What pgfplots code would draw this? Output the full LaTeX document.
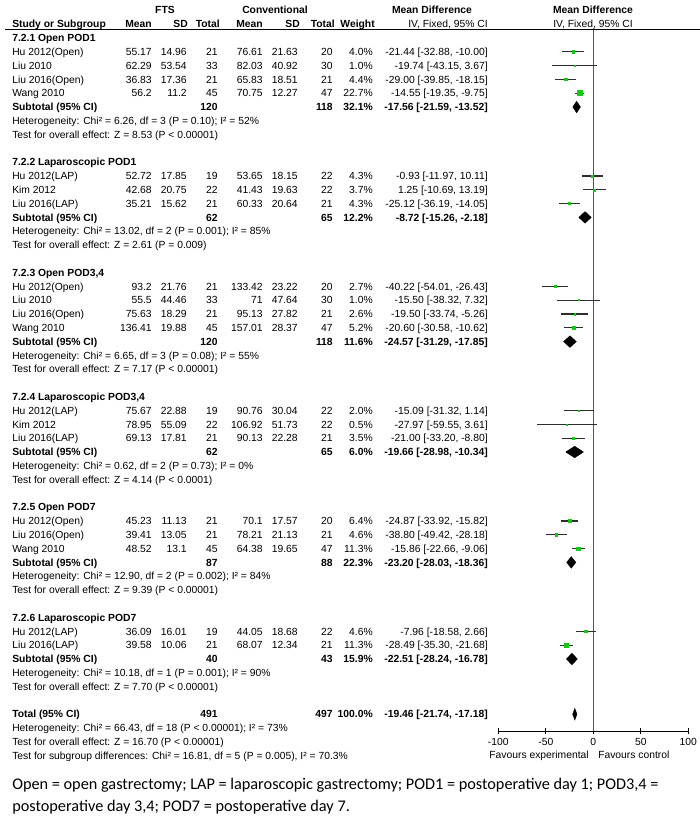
\documentclass[border=0pt]{standalone}
\usepackage{fontspec}
\setmainfont{Liberation Sans}
\newfontfamily\footfont{Carlito}
\usepackage{pgfplots}
\pgfplotsset{compat=1.18}
\usepackage{pgfplotstable}

\definecolor{fgreen}{RGB}{20,200,20}
\definecolor{cigray}{RGB}{45,45,45}
\definecolor{zerogray}{RGB}{85,85,85}

% one line per study: row position (y = -row), mean difference, CI, weight
\pgfplotstableread{
y    md      lo      hi      w
-1   -21.44  -32.88  -10.00  4.0
-2   -19.74  -43.15  3.67    1.0
-3   -29.00  -39.85  -18.15  4.4
-4   -14.55  -19.35  -9.75   22.7
-10  -0.93   -11.97  10.11   4.3
-11  1.25    -10.69  13.19   3.7
-12  -25.12  -36.19  -14.05  4.3
-18  -40.22  -54.01  -26.43  2.7
-19  -15.50  -38.32  7.32    1.0
-20  -19.50  -33.74  -5.26   2.6
-21  -20.60  -30.58  -10.62  5.2
-27  -15.09  -31.32  1.14    2.0
-28  -27.97  -59.55  3.61    0.5
-29  -21.00  -33.20  -8.80   3.5
-35  -24.87  -33.92  -15.82  6.4
-36  -38.80  -49.42  -28.18  4.6
-37  -15.86  -22.66  -9.06   11.3
-43  -7.96   -18.58  2.66    4.6
-44  -28.49  -35.30  -21.68  11.3
}\studies

\newcommand\fs{\fontsize{7.75}{9}\selectfont}
% text rows, in pixels of the reference (y down)
\newcommand\ry[1]{41.6+13.8*(#1)}
\newcommand\lt[3][]{\node[anchor=base west,#1] at (12,{\ry{#2}}) {#3};}
\newcommand\rt[4][]{\node[anchor=base east,#1] at (#2,{\ry{#3}}) {#4};}
\newcommand\study[9]{%
  \lt{#1}{#2}\rt{152}{#1}{#3}\rt{187}{#1}{#4}\rt{218}{#1}{#5}%
  \rt{263}{#1}{#6}\rt{298}{#1}{#7}\rt{333}{#1}{#8}\rt{373}{#1}{#9}}
\newcommand\ci[2]{\rt{488}{#1}{#2}}
\newcommand\sub[6]{%
  \lt[font=\fs\bfseries]{#1}{#2}%
  \rt[font=\fs\bfseries]{218}{#1}{#3}%
  \rt[font=\fs\bfseries]{333}{#1}{#4}%
  \rt[font=\fs\bfseries]{373}{#1}{#5}%
  \rt[font=\fs\bfseries]{488}{#1}{#6}}
\newcommand\head[2]{\lt[font=\fs\bfseries]{#1}{#2}}

\begin{document}
\begin{tikzpicture}
\path[use as bounding box] (0pt,0pt) rectangle (525pt,-616.5pt);

\begin{axis}[
  at={(373.725pt,-548.25pt)}, anchor=south west,
  scale only axis, width=142.5pt, height=527.25pt,
  xmin=-100, xmax=100, ymin=-50.2174, ymax=0.7246,
  axis x line=bottom, axis y line=none,
  axis line style={-, black, line width=0.6pt},
  xtick={-100,-50,0,50,100},
  xticklabels={-100,-50,0,50,100},
  tick align=center, major tick length=5pt,
  tick style={black, line width=0.6pt},
  xticklabel style={font=\fs, inner sep=0pt, yshift=-3pt},
  clip=false,
]
\addplot[zerogray, line width=0.6pt] coordinates {(0,0.7246) (0,-50.2174)};

% confidence intervals
\addplot[draw=none, mark=none,
  error bars/.cd, x dir=both, x explicit, error mark=none,
  error bar style={draw=cigray, line width=0.85pt}]
  table[x=md, y=y,
        x error minus expr=\thisrow{md}-\thisrow{lo},
        x error plus expr=\thisrow{hi}-\thisrow{md}] {\studies};

% weight squares
\addplot[scatter, only marks, mark=square*,
  scatter/use mapped color={draw=fgreen, fill=fgreen},
  visualization depends on={0.4*sqrt(\thisrow{w}) \as \msz},
  scatter/@pre marker code/.append style={/tikz/mark size=\msz}]
  table[x=md, y=y] {\studies};

% pooled estimates
\addplot[fill=black, draw=black, line width=0.3pt] coordinates {(-21.59,-5) (-17.56,-4.58) (-13.52,-5) (-17.56,-5.42) (-21.59,-5)};
\addplot[fill=black, draw=black, line width=0.3pt] coordinates {(-15.26,-13) (-8.72,-12.58) (-2.18,-13) (-8.72,-13.42) (-15.26,-13)};
\addplot[fill=black, draw=black, line width=0.3pt] coordinates {(-31.29,-22) (-24.57,-21.58) (-17.85,-22) (-24.57,-22.42) (-31.29,-22)};
\addplot[fill=black, draw=black, line width=0.3pt] coordinates {(-28.98,-30) (-19.66,-29.58) (-10.34,-30) (-19.66,-30.42) (-28.98,-30)};
\addplot[fill=black, draw=black, line width=0.3pt] coordinates {(-28.03,-38) (-23.20,-37.58) (-18.36,-38) (-23.20,-38.42) (-28.03,-38)};
\addplot[fill=black, draw=black, line width=0.3pt] coordinates {(-28.24,-45) (-22.51,-44.58) (-16.78,-45) (-22.51,-45.42) (-28.24,-45)};
\addplot[fill=black, draw=black, line width=0.3pt] coordinates {(-21.74,-49) (-19.46,-48.58) (-17.18,-49) (-19.46,-49.42) (-21.74,-49)};
\end{axis}

\begin{scope}[x=0.75pt, y=-0.75pt,
  every node/.style={inner sep=0pt, font=\fs}]
% header
\begin{scope}[every node/.style={inner sep=0pt, font=\fs\bfseries}]
\node[anchor=base] at (165,13.6) {FTS};
\node[anchor=base] at (275,13.6) {Conventional};
\node[anchor=base] at (432,13.6) {Mean Difference};
\node[anchor=base] at (593,13.6) {Mean Difference};
\node[anchor=base west] at (12,27.4) {Study or Subgroup};
\node[anchor=base east] at (152,27.4) {Mean};
\node[anchor=base east] at (188,27.4) {SD};
\node[anchor=base east] at (220,27.4) {Total};
\node[anchor=base east] at (263,27.4) {Mean};
\node[anchor=base east] at (300,27.4) {SD};
\node[anchor=base east] at (335,27.4) {Total};
\node[anchor=base east] at (375,27.4) {Weight};
\end{scope}
\node[anchor=base east] at (488,27.4) {IV, Fixed, 95\% CI};
\node[anchor=base] at (593,27.4) {IV, Fixed, 95\% CI};
\draw[line width=0.75pt] (5,29) -- (700,29);

% 7.2.1
\head{0}{7.2.1 Open POD1}
\study{1}{Hu 2012(Open)}{55.17}{14.96}{21}{76.61}{21.63}{20}{4.0\%}\ci{1}{-21.44 [-32.88, -10.00]}
\study{2}{Liu 2010}{62.29}{53.54}{33}{82.03}{40.92}{30}{1.0\%}\ci{2}{-19.74 [-43.15, 3.67]}
\study{3}{Liu 2016(Open)}{36.83}{17.36}{21}{65.83}{18.51}{21}{4.4\%}\ci{3}{-29.00 [-39.85, -18.15]}
\study{4}{Wang 2010}{56.2}{11.2}{45}{70.75}{12.27}{47}{22.7\%}\ci{4}{-14.55 [-19.35, -9.75]}
\sub{5}{Subtotal (95\% CI)}{120}{118}{32.1\%}{-17.56 [-21.59, -13.52]}
\lt{6}{Heterogeneity: Chi² = 6.26, df = 3 (P = 0.10); I² = 52\%}
\lt{7}{Test for overall effect: Z = 8.53 (P < 0.00001)}

% 7.2.2
\head{9}{7.2.2 Laparoscopic POD1}
\study{10}{Hu 2012(LAP)}{52.72}{17.85}{19}{53.65}{18.15}{22}{4.3\%}\ci{10}{-0.93 [-11.97, 10.11]}
\study{11}{Kim 2012}{42.68}{20.75}{22}{41.43}{19.63}{22}{3.7\%}\ci{11}{1.25 [-10.69, 13.19]}
\study{12}{Liu 2016(LAP)}{35.21}{15.62}{21}{60.33}{20.64}{21}{4.3\%}\ci{12}{-25.12 [-36.19, -14.05]}
\sub{13}{Subtotal (95\% CI)}{62}{65}{12.2\%}{-8.72 [-15.26, -2.18]}
\lt{14}{Heterogeneity: Chi² = 13.02, df = 2 (P = 0.001); I² = 85\%}
\lt{15}{Test for overall effect: Z = 2.61 (P = 0.009)}

% 7.2.3
\head{17}{7.2.3 Open POD3,4}
\study{18}{Hu 2012(Open)}{93.2}{21.76}{21}{133.42}{23.22}{20}{2.7\%}\ci{18}{-40.22 [-54.01, -26.43]}
\study{19}{Liu 2010}{55.5}{44.46}{33}{71}{47.64}{30}{1.0\%}\ci{19}{-15.50 [-38.32, 7.32]}
\study{20}{Liu 2016(Open)}{75.63}{18.29}{21}{95.13}{27.82}{21}{2.6\%}\ci{20}{-19.50 [-33.74, -5.26]}
\study{21}{Wang 2010}{136.41}{19.88}{45}{157.01}{28.37}{47}{5.2\%}\ci{21}{-20.60 [-30.58, -10.62]}
\sub{22}{Subtotal (95\% CI)}{120}{118}{11.6\%}{-24.57 [-31.29, -17.85]}
\lt{23}{Heterogeneity: Chi² = 6.65, df = 3 (P = 0.08); I² = 55\%}
\lt{24}{Test for overall effect: Z = 7.17 (P < 0.00001)}

% 7.2.4
\head{26}{7.2.4 Laparoscopic POD3,4}
\study{27}{Hu 2012(LAP)}{75.67}{22.88}{19}{90.76}{30.04}{22}{2.0\%}\ci{27}{-15.09 [-31.32, 1.14]}
\study{28}{Kim 2012}{78.95}{55.09}{22}{106.92}{51.73}{22}{0.5\%}\ci{28}{-27.97 [-59.55, 3.61]}
\study{29}{Liu 2016(LAP)}{69.13}{17.81}{21}{90.13}{22.28}{21}{3.5\%}\ci{29}{-21.00 [-33.20, -8.80]}
\sub{30}{Subtotal (95\% CI)}{62}{65}{6.0\%}{-19.66 [-28.98, -10.34]}
\lt{31}{Heterogeneity: Chi² = 0.62, df = 2 (P = 0.73); I² = 0\%}
\lt{32}{Test for overall effect: Z = 4.14 (P < 0.0001)}

% 7.2.5
\head{34}{7.2.5 Open POD7}
\study{35}{Hu 2012(Open)}{45.23}{11.13}{21}{70.1}{17.57}{20}{6.4\%}\ci{35}{-24.87 [-33.92, -15.82]}
\study{36}{Liu 2016(Open)}{39.41}{13.05}{21}{78.21}{21.13}{21}{4.6\%}\ci{36}{-38.80 [-49.42, -28.18]}
\study{37}{Wang 2010}{48.52}{13.1}{45}{64.38}{19.65}{47}{11.3\%}\ci{37}{-15.86 [-22.66, -9.06]}
\sub{38}{Subtotal (95\% CI)}{87}{88}{22.3\%}{-23.20 [-28.03, -18.36]}
\lt{39}{Heterogeneity: Chi² = 12.90, df = 2 (P = 0.002); I² = 84\%}
\lt{40}{Test for overall effect: Z = 9.39 (P < 0.00001)}

% 7.2.6
\head{42}{7.2.6 Laparoscopic POD7}
\study{43}{Hu 2012(LAP)}{36.09}{16.01}{19}{44.05}{18.68}{22}{4.6\%}\ci{43}{-7.96 [-18.58, 2.66]}
\study{44}{Liu 2016(LAP)}{39.58}{10.06}{21}{68.07}{12.34}{21}{11.3\%}\ci{44}{-28.49 [-35.30, -21.68]}
\sub{45}{Subtotal (95\% CI)}{40}{43}{15.9\%}{-22.51 [-28.24, -16.78]}
\lt{46}{Heterogeneity: Chi² = 10.18, df = 1 (P = 0.001); I² = 90\%}
\lt{47}{Test for overall effect: Z = 7.70 (P < 0.00001)}

% overall
\sub{49}{Total (95\% CI)}{491}{497}{100.0\%}{-19.46 [-21.74, -17.18]}
\lt{50}{Heterogeneity: Chi² = 66.43, df = 18 (P < 0.00001); I² = 73\%}
\lt{51}{Test for overall effect: Z = 16.70 (P < 0.00001)}
\lt{52}{Test for subgroup differences: Chi² = 16.81, df = 5 (P = 0.005), I² = 70.3\%}

\node[anchor=base east] at (589,758.6) {Favours experimental};
\node[anchor=base west] at (598,758.6) {Favours control};

% footnote
\node[anchor=base west, font=\footfont\fontsize{12.2}{14}\selectfont] at (12,789)
  {Open = open gastrectomy; LAP = laparoscopic gastrectomy; POD1 = postoperative day 1; POD3,4 =};
\node[anchor=base west, font=\footfont\fontsize{12.2}{14}\selectfont] at (12,811.5)
  {postoperative day 3,4; POD7 = postoperative day 7.};
\end{scope}
\end{tikzpicture}
\end{document}
